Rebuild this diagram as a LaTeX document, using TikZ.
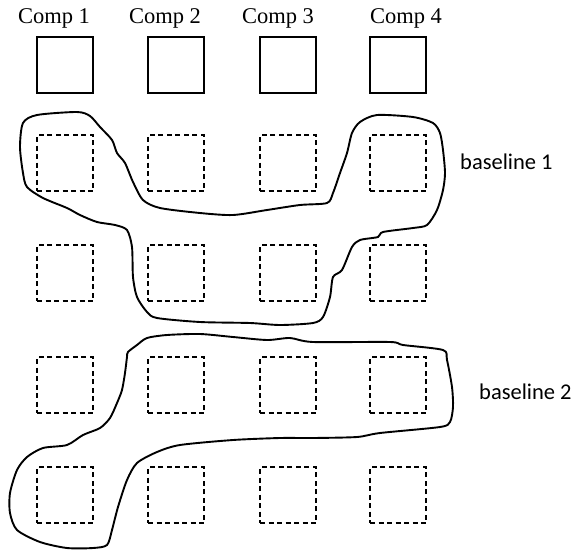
\documentclass[tikz,border=0pt]{standalone}
\usepackage{fontspec}
\setmainfont{Liberation Serif}
\newfontfamily\labelfont{Carlito}
\begin{document}
\begin{tikzpicture}[x=1pt,y=-1pt,
  compbox/.style={draw, line width=1.5pt, minimum size=56pt, inner sep=0pt},
  slotbox/.style={draw, line width=1.4pt, dash pattern=on 5pt off 3.5pt, minimum size=56pt, inner sep=0pt},
  complabel/.style={anchor=base, font=\fontsize{22.5}{26}\selectfont, inner sep=0pt},
  groupname/.style={anchor=base west, font=\labelfont\fontsize{22.5}{26}\selectfont, inner sep=0pt},
  grouping/.style={line width=1.9pt, line join=round}]
\useasboundingbox (0,0) rectangle (581,552);

% component headers
\node[complabel] (l1) at (54,23) {Comp 1};
\node[complabel] (l2) at (165,23) {Comp 2};
\node[complabel] (l3) at (278,23) {Comp 3};
\node[complabel] (l4) at (406,23) {Comp 4};

% solid component boxes
\node[compbox] (c1) at (65,65) {};
\node[compbox] (c2) at (176,65) {};
\node[compbox] (c3) at (288,65) {};
\node[compbox] (c4) at (398,65) {};

% dashed slot grid
\foreach \r/\y in {2/163,3/273,4/385,5/495}{
  \foreach \c/\x in {1/65,2/176,3/288,4/398}{
    \node[slotbox] (s\r\c) at (\x,\y) {};
  }
}

% baseline 1 outline
\draw[grouping] plot[smooth cycle, tension=0.45] coordinates {
  (37,115) (77,112) (90,116) (100,127) (112,140) (117,153) (125,163)
  (133,182) (143,200) (160,208) (200,213) (233,215) (267,210) (300,205)
  (327,203) (333,193) (340,173) (347,153) (352,133) (360,122) (377,115)
  (413,117) (433,123) (440,133) (443,150) (445,173) (443,190) (437,210)
  (427,225) (413,228) (383,232) (378,237) (360,240) (352,247) (342,270)
  (333,277) (330,297) (323,317) (313,323) (280,325) (250,323) (200,322)
  (157,318) (147,312) (137,297) (133,277) (132,247) (127,230) (115,225)
  (97,222) (80,215) (67,208) (43,198) (27,187) (23,173) (20,147) (23,123)};

% baseline 2 outline
\draw[grouping] plot[smooth cycle, tension=0.45] coordinates {
  (128,352) (137,345) (147,338) (167,335) (200,334) (233,337) (267,340)
  (290,338) (313,342) (390,342) (403,345) (443,350) (447,360) (452,387)
  (453,407) (450,422) (440,427) (380,433) (357,437) (313,438) (280,438)
  (233,440) (180,445) (157,452) (137,463) (127,480) (118,507) (112,530)
  (107,545) (93,548) (67,548) (40,542) (17,530) (10,513) (10,493)
  (17,470) (27,457) (43,448) (67,445) (83,435) (100,428) (110,418)
  (117,403) (122,390) (125,373) (127,357)};

% group names
\node[groupname] (b1) at (460,169) {baseline 1};
\node[groupname] (b2) at (479,399) {baseline 2};
\end{tikzpicture}
\end{document}
